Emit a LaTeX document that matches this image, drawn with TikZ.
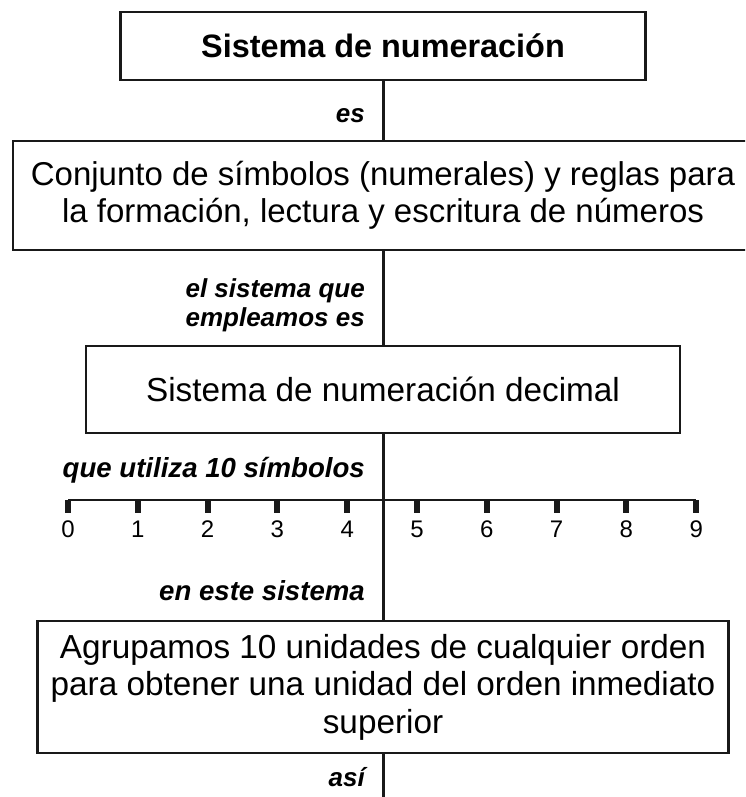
\documentclass[tikz,border=0pt]{standalone}
\usepackage{fontspec}
\setmainfont{Liberation Sans}
\begin{document}
\begin{tikzpicture}[x=1pt,y=-1pt,
  box/.style={draw=black!90, line width=2.5pt, align=center, inner sep=0pt, font=\fontsize{33.3}{37.5}\selectfont},
  lbl/.style={inner sep=0pt, font=\fontsize{26}{29}\selectfont\bfseries\itshape, align=right},
  biglbl/.style={lbl, font=\fontsize{27.6}{30}\selectfont\bfseries\itshape},
  conn/.style={line width=3pt, black!90},
  num/.style={anchor=base, inner sep=0pt, font=\fontsize{24}{27}\selectfont},
  tickmark/.style={line width=6pt, black!90},
  axisline/.style={line width=2.5pt, black!90}
]
\useasboundingbox (0,0) rectangle (745,797);
\clip (0,0) rectangle (745,797);

\node[box, minimum width=525pt, minimum height=68pt, font=\fontsize{32.4}{36}\selectfont\bfseries] (b1) at (383,46) {Sistema de numeración};
\node[box, minimum width=740pt, minimum height=109pt, font=\fontsize{33}{37.5}\selectfont] (b2) at (383,195.5) {Conjunto de símbolos (numerales) y reglas para\\la formación, lectura y escritura de números};
\node[box, minimum width=594pt, minimum height=87pt] (b3) at (383,389.5) {Sistema de numeración decimal};
\node[box, minimum width=691pt, minimum height=132pt] (b4) at (383,687) {Agrupamos 10 unidades de cualquier orden\\para obtener una unidad del orden inmediato\\superior};
\coordinate (end) at (383,797);

\draw[conn] (b1.south) -- (b2.north);
\draw[conn] (b2.south) -- (b3.north);
\draw[conn] (b3.south) -- (b4.north);
\draw[conn] (b4.south) -- (end);

\foreach \i in {0,...,9} {
  \coordinate (t\i) at ({68+69.8*\i},500);
}
\draw[axisline] (t0) -- (t9);
\foreach \i in {0,...,9} {
  \draw[tickmark] (t\i) -- ++(0,13);
  \node[num] (n\i) at ({68+69.8*\i},537) {\i};
}

\node[lbl, anchor=base east] (l1) at (365,122) {es};
\node[lbl, anchor=east] (l2) at (365,305) {el sistema que\\empleamos es};
\node[biglbl, anchor=base east] (l3) at (365,477) {que utiliza 10 símbolos};
\node[biglbl, anchor=base east] (l4) at (365,600) {en este sistema};
\node[lbl, anchor=base east] (l5) at (365,786) {así};
\end{tikzpicture}
\end{document}
